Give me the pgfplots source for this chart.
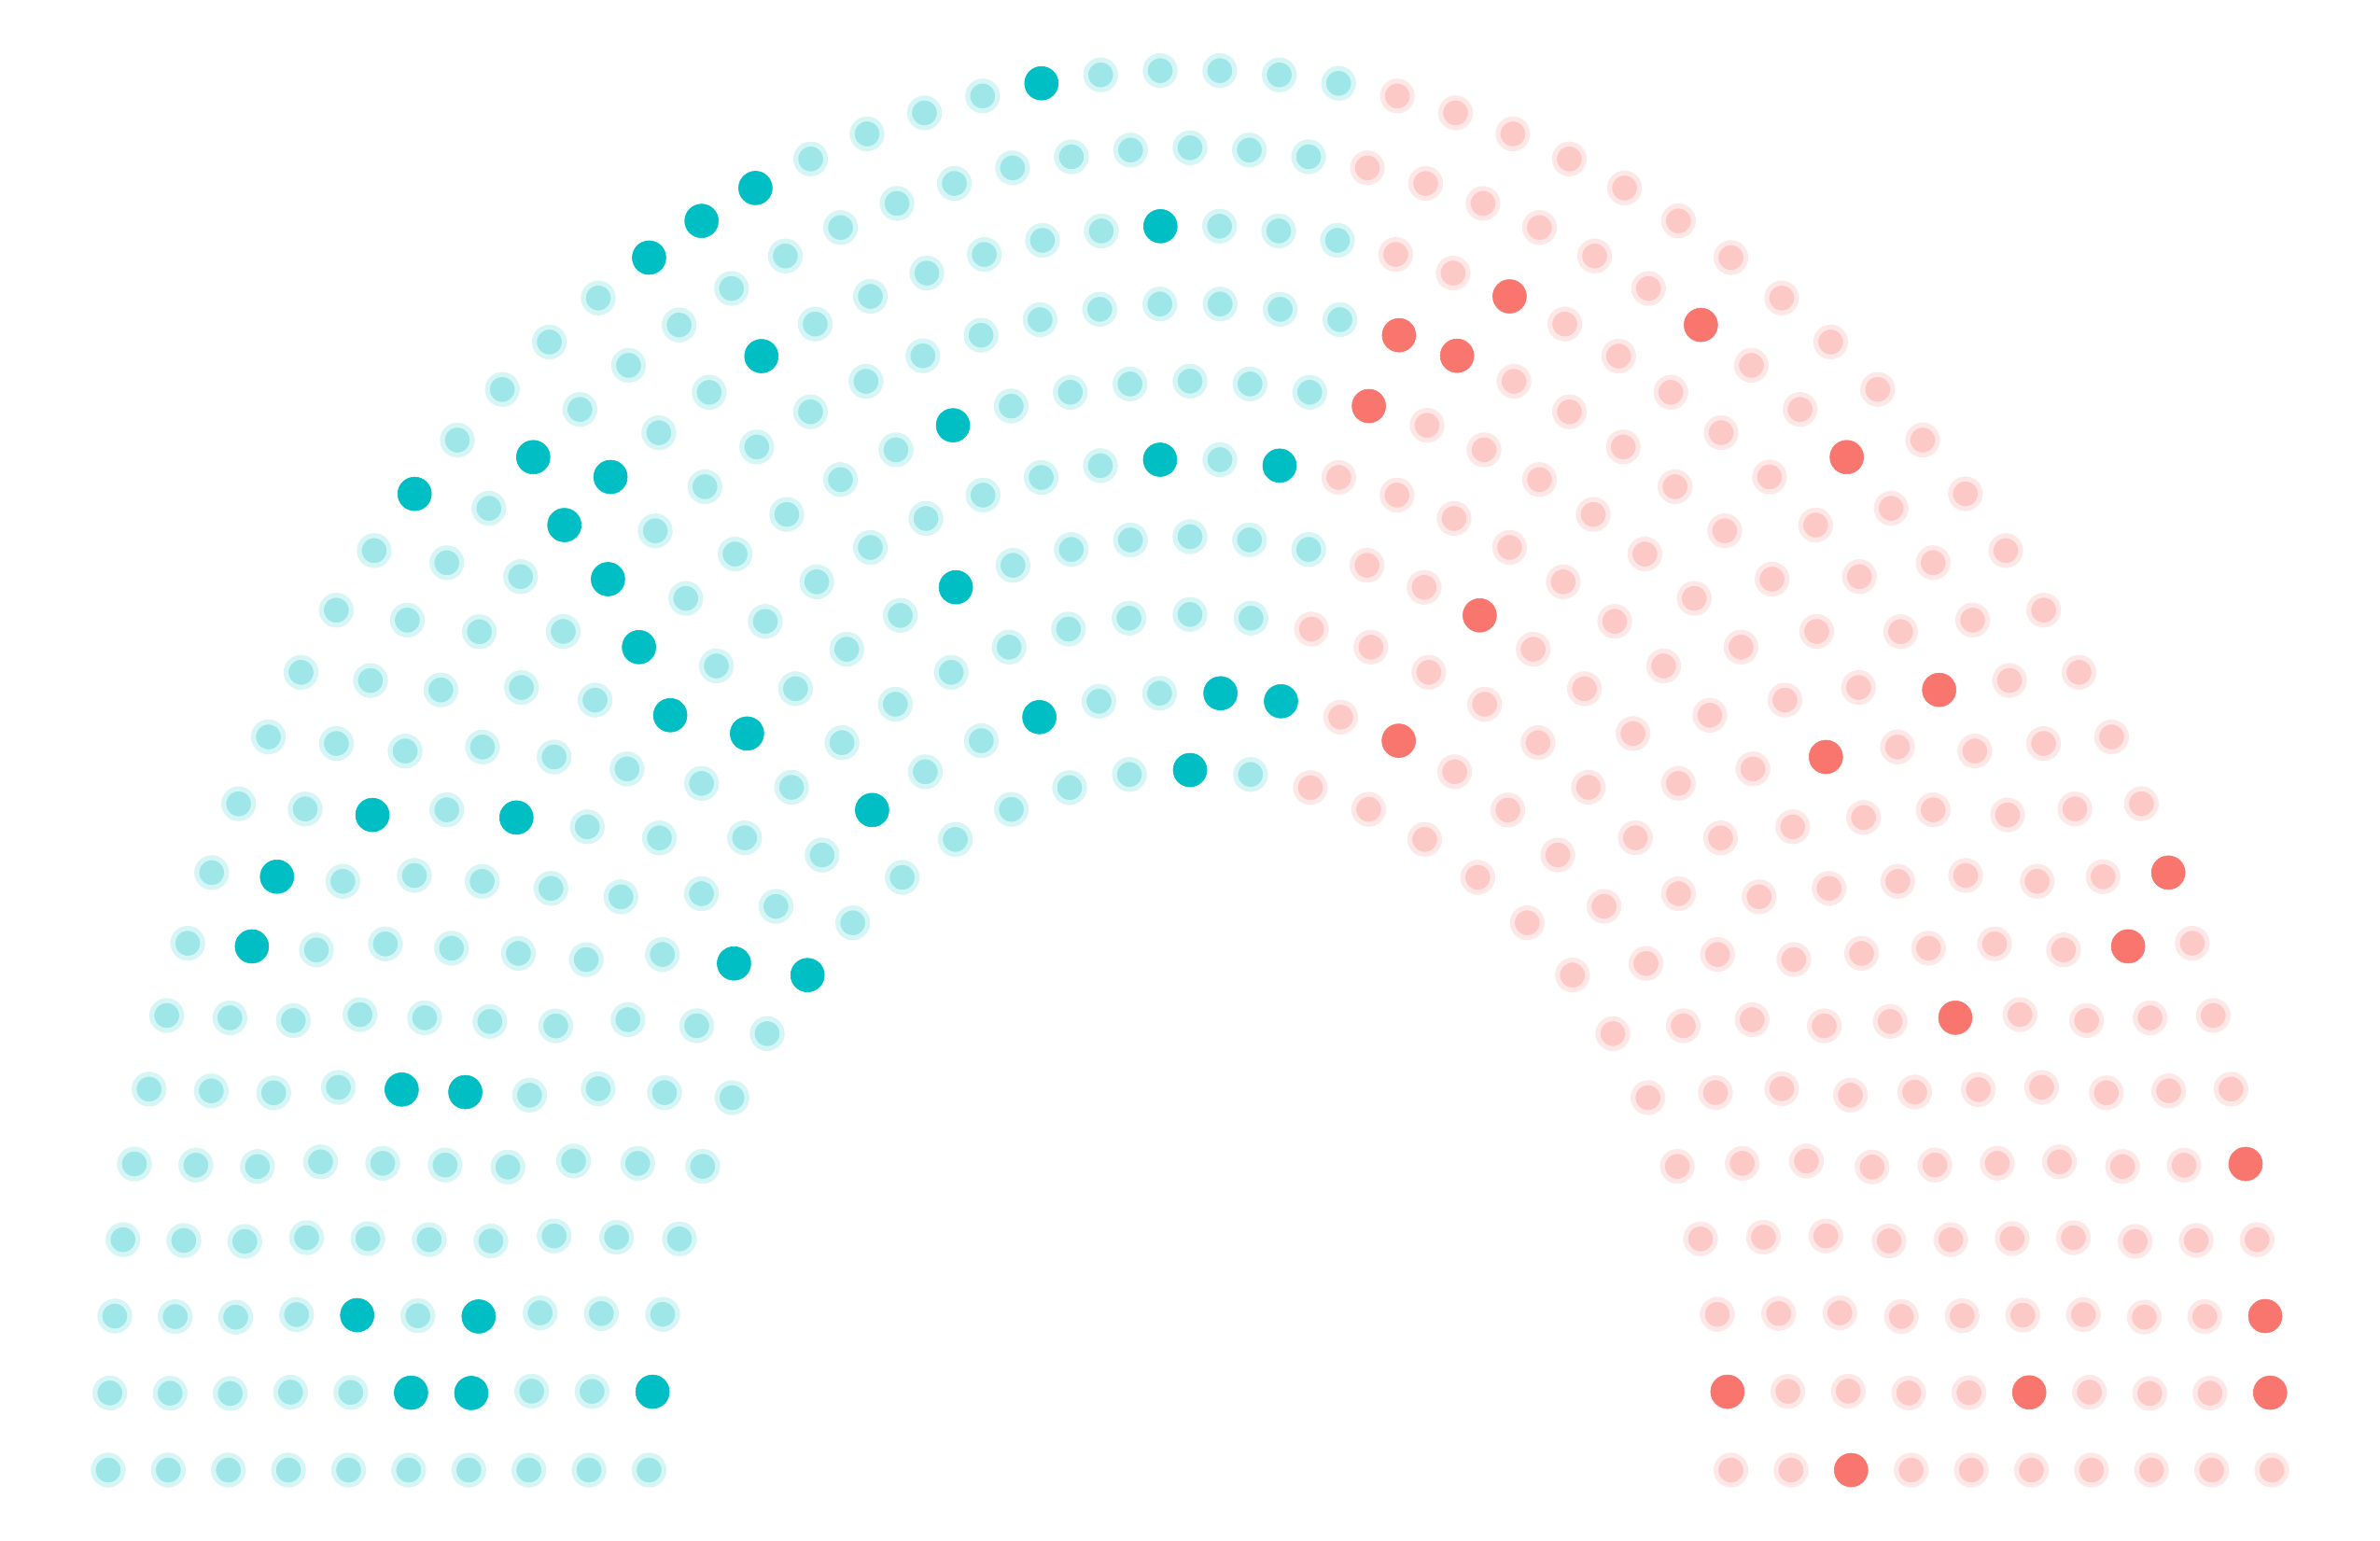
\documentclass[border=0pt]{standalone}
\usepackage{pgfplots}
\pgfplotsset{compat=1.18}
\definecolor{tealdark}{HTML}{00BFC4}
\definecolor{tealfill}{HTML}{9EE6E8}
\definecolor{tealring}{HTML}{D6F5F5}
\definecolor{reddark}{HTML}{F8766D}
\definecolor{redfill}{HTML}{FCC9C6}
\definecolor{redring}{HTML}{FEE8E7}
\pgfplotsset{
  seats/.style={scatter, only marks, mark=*, scatter src=explicit symbolic,
    scatter/classes={
      a={mark=*, mark size=0.16cm, draw=tealring, fill=tealfill, line width=0.053cm},
      b={mark=*, mark size=0.18cm, draw=tealdark, fill=tealdark, line width=0.006cm},
      c={mark=*, mark size=0.16cm, draw=redring, fill=redfill, line width=0.053cm},
      d={mark=*, mark size=0.18cm, draw=reddark, fill=reddark, line width=0.006cm}}},
}
\begin{document}
\begin{tikzpicture}
\begin{axis}[scale only axis, width=25.5cm, height=16.5cm,
  xmin=-2.2, xmax=2.2, ymin=-0.1, ymax=2.1, hide axis, clip=false]
\path (rel axis cs:0,0) rectangle (rel axis cs:1,1);
% ring 1: radius 1, 29 seats
\addplot[seats] table[row sep=\\, meta=c, x expr={-1*cos(180*\coordindex/28)}, y expr={1*sin(180*\coordindex/28)}]
{c\\a\\b\\a\\a\\a\\a\\a\\b\\a\\a\\a\\a\\a\\a\\b\\a\\c\\c\\c\\c\\c\\c\\c\\c\\c\\c\\c\\d\\c\\};
% ring 2: radius 1.1111, 32 seats
\addplot[seats] table[row sep=\\, meta=c, x expr={-1.11111*cos(180*\coordindex/31)}, y expr={1.11111*sin(180*\coordindex/31)}]
{c\\a\\a\\a\\a\\a\\a\\a\\b\\a\\a\\b\\a\\a\\b\\a\\a\\b\\b\\c\\d\\c\\c\\c\\c\\c\\c\\c\\c\\c\\c\\c\\c\\};
% ring 3: radius 1.2222, 35 seats
\addplot[seats] table[row sep=\\, meta=c, x expr={-1.22222*cos(180*\coordindex/34)}, y expr={1.22222*sin(180*\coordindex/34)}]
{c\\a\\a\\a\\a\\a\\a\\a\\a\\a\\a\\a\\a\\a\\a\\a\\a\\a\\a\\a\\c\\c\\c\\c\\c\\c\\c\\c\\c\\c\\c\\c\\c\\c\\c\\d\\};
% ring 4: radius 1.3333, 39 seats
\addplot[seats] table[row sep=\\, meta=c, x expr={-1.33333*cos(180*\coordindex/38)}, y expr={1.33333*sin(180*\coordindex/38)}]
{c\\a\\b\\b\\a\\a\\a\\a\\a\\a\\a\\a\\b\\a\\a\\a\\b\\a\\a\\a\\a\\a\\a\\c\\c\\d\\c\\c\\c\\c\\c\\c\\c\\c\\c\\c\\c\\c\\c\\c\\};
% ring 5: radius 1.4444, 42 seats
\addplot[seats] table[row sep=\\, meta=c, x expr={-1.44444*cos(180*\coordindex/41)}, y expr={1.44444*sin(180*\coordindex/41)}]
{c\\a\\b\\a\\a\\a\\b\\a\\a\\a\\a\\a\\b\\a\\a\\a\\a\\a\\a\\a\\a\\b\\a\\b\\c\\c\\c\\c\\c\\c\\c\\c\\c\\c\\c\\c\\c\\c\\c\\c\\c\\c\\c\\};
% ring 6: radius 1.5556, 45 seats
\addplot[seats] table[row sep=\\, meta=c, x expr={-1.55556*cos(180*\coordindex/44)}, y expr={1.55556*sin(180*\coordindex/44)}]
{c\\a\\a\\b\\a\\a\\b\\a\\a\\a\\b\\a\\a\\b\\a\\a\\a\\a\\a\\b\\a\\a\\a\\a\\a\\a\\d\\c\\c\\c\\c\\c\\c\\c\\c\\d\\c\\c\\c\\d\\c\\c\\c\\c\\d\\c\\};
% ring 7: radius 1.6667, 48 seats
\addplot[seats] table[row sep=\\, meta=c, x expr={-1.66667*cos(180*\coordindex/47)}, y expr={1.66667*sin(180*\coordindex/47)}]
{c\\a\\a\\a\\a\\a\\a\\a\\a\\a\\a\\a\\a\\a\\b\\a\\a\\a\\a\\a\\a\\a\\a\\a\\a\\a\\a\\a\\d\\d\\c\\c\\c\\c\\c\\c\\c\\c\\c\\c\\c\\c\\c\\c\\c\\c\\c\\c\\c\\};
% ring 8: radius 1.7778, 52 seats
\addplot[seats] table[row sep=\\, meta=c, x expr={-1.77778*cos(180*\coordindex/51)}, y expr={1.77778*sin(180*\coordindex/51)}]
{c\\a\\a\\a\\a\\a\\a\\a\\a\\a\\b\\a\\a\\a\\a\\b\\b\\a\\a\\b\\a\\a\\a\\a\\a\\a\\b\\a\\a\\a\\c\\c\\d\\c\\c\\c\\c\\c\\c\\c\\c\\d\\c\\c\\c\\c\\c\\c\\c\\c\\c\\c\\c\\};
% ring 9: radius 1.8889, 55 seats
\addplot[seats] table[row sep=\\, meta=c, x expr={-1.88889*cos(180*\coordindex/54)}, y expr={1.88889*sin(180*\coordindex/54)}]
{c\\a\\a\\a\\a\\a\\a\\a\\b\\b\\a\\a\\a\\a\\a\\a\\b\\a\\a\\a\\a\\a\\a\\a\\a\\a\\a\\a\\a\\a\\a\\c\\c\\c\\c\\c\\c\\d\\c\\c\\d\\c\\c\\c\\c\\c\\c\\c\\d\\c\\c\\c\\c\\c\\c\\c\\};
% ring 10: radius 2, 58 seats
\addplot[seats] table[row sep=\\, meta=c, x expr={-2*cos(180*\coordindex/57)}, y expr={2*sin(180*\coordindex/57)}]
{c\\a\\a\\a\\a\\a\\a\\a\\a\\a\\a\\a\\a\\a\\a\\b\\a\\a\\a\\a\\b\\b\\b\\a\\a\\a\\a\\b\\a\\a\\a\\a\\a\\c\\c\\c\\c\\c\\c\\c\\c\\c\\c\\c\\c\\c\\c\\c\\c\\c\\d\\c\\c\\c\\d\\c\\d\\d\\c\\};
\end{axis}
\end{tikzpicture}
\end{document}
